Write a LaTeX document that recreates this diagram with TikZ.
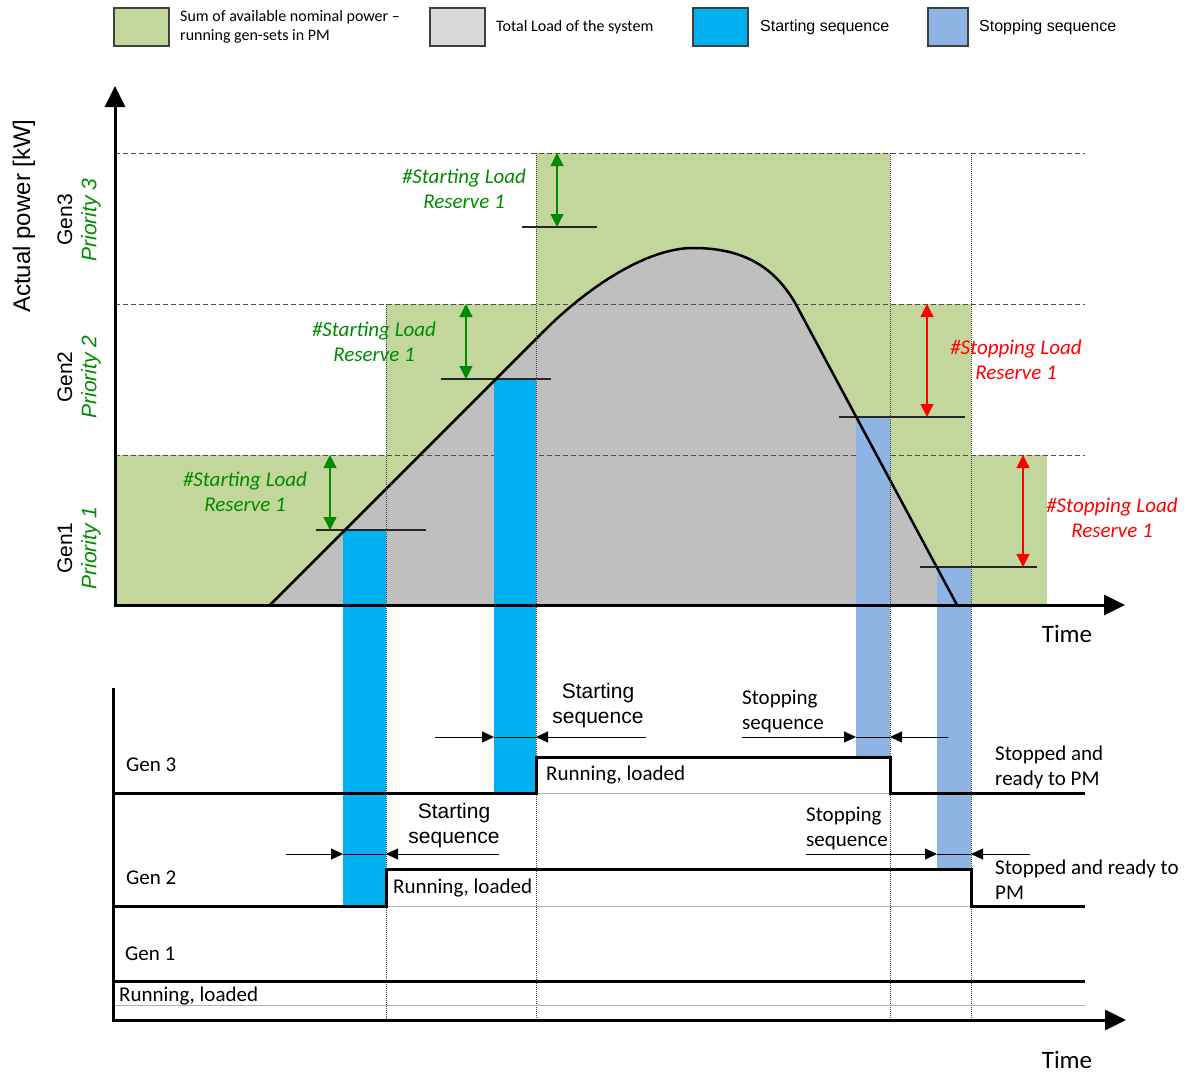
\documentclass[tikz,border=0pt]{standalone}
\usepackage{fontspec}
\setmainfont{Carlito}
\newfontfamily\arialfont{Liberation Sans}
\usetikzlibrary{arrows.meta}

\definecolor{availgreen}{HTML}{C3D69B}
\definecolor{loadgray}{HTML}{BFBFBF}
\definecolor{legendgray}{HTML}{D9D9D9}
\definecolor{startblue}{HTML}{00B0F0}
\definecolor{stopblue}{HTML}{8EB4E3}
\definecolor{reservegreen}{HTML}{008A00}
\definecolor{reservered}{HTML}{FF0000}
\definecolor{boxedge}{HTML}{404040}

\tikzset{
  axisline/.style={line width=3pt, line join=miter},
  bigtip/.style={-{Triangle[length=21pt,width=20pt]}},
  signal/.style={line width=3pt, line join=miter},
  baseline gray/.style={line width=1pt, black!30},
  levelline/.style={line width=1pt, black!70, dash pattern=on 5pt off 3pt},
  guide/.style={line width=0.8pt, black!75, dash pattern=on 1pt off 1pt},
  marker/.style={line width=1.2pt, black!85},
  loadline/.style={line width=2.5pt, line join=round},
  reservearrow/.style={line width=1.2pt,
    {Triangle[length=13pt,width=13pt]}-{Triangle[length=13pt,width=13pt]}},
  dimarrow/.style={line width=1pt, -{Triangle[length=12pt,width=11pt]}},
  legendbox/.style={draw=boxedge, line width=1.5pt},
  txt/.style={inner sep=0pt, font=\fontsize{21}{25}\selectfont},
  arialtxt/.style={inner sep=0pt, font=\arialfont\fontsize{21}{25}\selectfont},
  reservelbl/.style={inner sep=0pt, align=center, font=\fontsize{21}{25}\selectfont\itshape},
  legendtxt/.style={inner sep=0pt, anchor=west, align=left, font=\fontsize{16}{19}\selectfont},
  legendarial/.style={inner sep=0pt, anchor=west, font=\arialfont\fontsize{16}{19}\selectfont},
  genlbl/.style={inner sep=0pt, rotate=90, font=\arialfont\fontsize{21}{25}\selectfont},
  prilbl/.style={inner sep=0pt, rotate=90, text=reservegreen, font=\arialfont\itshape\fontsize{21}{25}\selectfont},
}

\begin{document}
\begin{tikzpicture}[x=1pt,y=-1pt]
\useasboundingbox (0,0) rectangle (1188,1073);

% ---------- legend ----------
\draw[legendbox, fill=availgreen] (114,8) rectangle (169,46);
\node[legendtxt] (legAvail) at (180,27) {Sum of available nominal power –\\running gen-sets in PM};
\draw[legendbox, fill=legendgray] (430,8) rectangle (485,46);
\node[legendtxt] (legLoad) at (496,27) {Total Load of the system};
\draw[legendbox, fill=startblue] (693,8) rectangle (748,46);
\node[legendarial] (legStart) at (760,27) {Starting sequence};
\draw[legendbox, fill=stopblue] (928,8) rectangle (968,46);
\node[legendarial] (legStop) at (979,27) {Stopping sequence};

% ---------- available power of running gen-sets ----------
\fill[availgreen] (115,455) rectangle (1047,605);
\fill[availgreen] (386,304) rectangle (971,455);
\fill[availgreen] (536,153) rectangle (890,304);

% ---------- total load ----------
\fill[loadgray] (270,605) -- (545,330)
  .. controls (585,290) and (645,248) .. (693,248)
  .. controls (745,248) and (778,268) .. (800,312)
  -- (957,605) -- cycle;

% ---------- power levels ----------
\draw[levelline] (115,153) -- (1085,153);
\draw[levelline] (115,304) -- (1085,304);
\draw[levelline] (115,455) -- (1085,455);

% ---------- starting / stopping sequences ----------
\fill[startblue] (343,530) rectangle (386,906);
\fill[startblue] (494,379) rectangle (536,793);
\fill[stopblue] (856,417) rectangle (890,757);
\fill[stopblue] (937,567) rectangle (971,869);

% ---------- reserve thresholds ----------
\coordinate (t1a) at (316,530);  \coordinate (t1b) at (426,530);
\coordinate (t2a) at (441,379);  \coordinate (t2b) at (551,379);
\coordinate (t3a) at (522,227);  \coordinate (t3b) at (597,227);
\coordinate (t4a) at (839,417);  \coordinate (t4b) at (965,417);
\coordinate (t5a) at (920,567);  \coordinate (t5b) at (1037,567);
\draw[marker] (t1a) -- (t1b);
\draw[marker] (t2a) -- (t2b);
\draw[marker] (t3a) -- (t3b);
\draw[marker] (t4a) -- (t4b);
\draw[marker] (t5a) -- (t5b);

% ---------- load outline ----------
\draw[loadline] (270,605) -- (545,330)
  .. controls (585,290) and (645,248) .. (693,248)
  .. controls (745,248) and (778,268) .. (800,312)
  -- (957,605);

% ---------- time guides ----------
\draw[guide] (386,304) -- (386,1020);
\draw[guide] (536,153) -- (536,1020);
\draw[guide] (890,153) -- (890,1020);
\draw[guide] (971,153) -- (971,1020);

% ---------- reserve arrows ----------
\coordinate (r1t) at (330,455); \coordinate (r1b) at (330,530);
\coordinate (r2t) at (466,304); \coordinate (r2b) at (466,379);
\coordinate (r3t) at (557,153); \coordinate (r3b) at (557,227);
\coordinate (r4t) at (927,304); \coordinate (r4b) at (927,417);
\coordinate (r5t) at (1023,455); \coordinate (r5b) at (1023,567);
\draw[reservearrow, reservegreen] (r1t) -- (r1b);
\draw[reservearrow, reservegreen] (r2t) -- (r2b);
\draw[reservearrow, reservegreen] (r3t) -- (r3b);
\draw[reservearrow, reservered] (r4t) -- (r4b);
\draw[reservearrow, reservered] (r5t) -- (r5b);

\node[reservelbl, text=reservegreen] (res1) at (245,492) {\#Starting Load\\Reserve 1};
\node[reservelbl, text=reservegreen] (res2) at (374,342) {\#Starting Load\\Reserve 1};
\node[reservelbl, text=reservegreen] (res3) at (464,189) {\#Starting Load\\Reserve 1};
\node[reservelbl, text=reservered] (res4) at (1016,360) {\#Stopping Load\\Reserve 1};
\node[reservelbl, text=reservered] (res5) at (1112,518) {\#Stopping Load\\Reserve 1};

% ---------- upper axes ----------
\draw[axisline, {Triangle[length=21pt,width=20pt]}-{Triangle[length=21pt,width=20pt]}]
  (115,86) -- (115,605) -- (1125,605);
\node[txt, font=\fontsize{25}{30}\selectfont] (timeUp) at (1067,634) {Time};
\node[inner sep=0pt, rotate=90, font=\arialfont\fontsize{24}{28}\selectfont] (ylabel) at (24,216) {Actual power [kW]};
\node[genlbl] (g3) at (65,220) {Gen3};
\node[prilbl] (p3) at (91,220) {Priority 3};
\node[genlbl] (g2) at (65,377) {Gen2};
\node[prilbl] (p2) at (91,377) {Priority 2};
\node[genlbl] (g1) at (65,548) {Gen1};
\node[prilbl] (p1) at (91,548) {Priority 1};

% ---------- gen-set states ----------
\draw[baseline gray] (536,793) -- (890,793);
\draw[baseline gray] (386,906) -- (971,906);
\draw[baseline gray] (113,1005) -- (1085,1005);
\draw[signal] (113,793) -- (536,793) -- (536,757) -- (890,757) -- (890,793) -- (1085,793);
\draw[signal] (113,906) -- (386,906) -- (386,869) -- (971,869) -- (971,906) -- (1085,906);
\draw[signal] (113,981) -- (1085,981);

\draw[axisline, bigtip] (113,688) -- (113,1020) -- (1126,1020);
\node[txt, font=\fontsize{25}{30}\selectfont] (timeLow) at (1067,1060) {Time};

\node[txt, anchor=west] (gen3) at (126,765) {Gen 3};
\node[txt, anchor=west] (gen2) at (126,878) {Gen 2};
\node[txt, anchor=west] (gen1) at (125,954) {Gen 1};
\node[txt, anchor=west] (run1) at (119,996) {Running, loaded};
\node[txt, anchor=west] (run3) at (546,775) {Running, loaded};
\node[txt, anchor=west] (run2) at (393,888) {Running, loaded};
\node[txt, anchor=west, align=left] (stop3) at (995,767) {Stopped and\\ready to PM};
\node[txt, anchor=west, align=left] (stop2) at (995,880) {Stopped and ready to\\PM};

% ---------- sequence durations ----------
\coordinate (a1s) at (435,737);  \coordinate (a1e) at (494,737);
\coordinate (a2s) at (646,737);  \coordinate (a2e) at (536,737);
\coordinate (a3s) at (742,737);  \coordinate (a3e) at (856,737);
\coordinate (a4s) at (948,737);  \coordinate (a4e) at (890,737);
\coordinate (b1s) at (286,854);  \coordinate (b1e) at (343,854);
\coordinate (b2s) at (499,854);  \coordinate (b2e) at (386,854);
\coordinate (b3s) at (806,854);  \coordinate (b3e) at (937,854);
\coordinate (b4s) at (1030,854); \coordinate (b4e) at (971,854);
\draw[line width=1pt] (a1e) -- (a2e);
\draw[line width=1pt] (a3e) -- (a4e);
\draw[line width=1pt] (b1e) -- (b2e);
\draw[line width=1pt] (b3e) -- (b4e);
\draw[dimarrow] (a1s) -- (a1e);
\draw[dimarrow] (a2s) -- (a2e);
\draw[dimarrow] (a3s) -- (a3e);
\draw[dimarrow] (a4s) -- (a4e);
\draw[dimarrow] (b1s) -- (b1e);
\draw[dimarrow] (b2s) -- (b2e);
\draw[dimarrow] (b3s) -- (b3e);
\draw[dimarrow] (b4s) -- (b4e);

\node[arialtxt, align=center] (seqStart3) at (598,706) {Starting\\sequence};
\node[arialtxt, align=center] (seqStart2) at (454,826) {Starting\\sequence};
\node[txt, anchor=west, align=left] (seqStop3) at (742,711) {Stopping\\sequence};
\node[txt, anchor=west, align=left] (seqStop2) at (806,828) {Stopping\\sequence};
\end{tikzpicture}
\end{document}
